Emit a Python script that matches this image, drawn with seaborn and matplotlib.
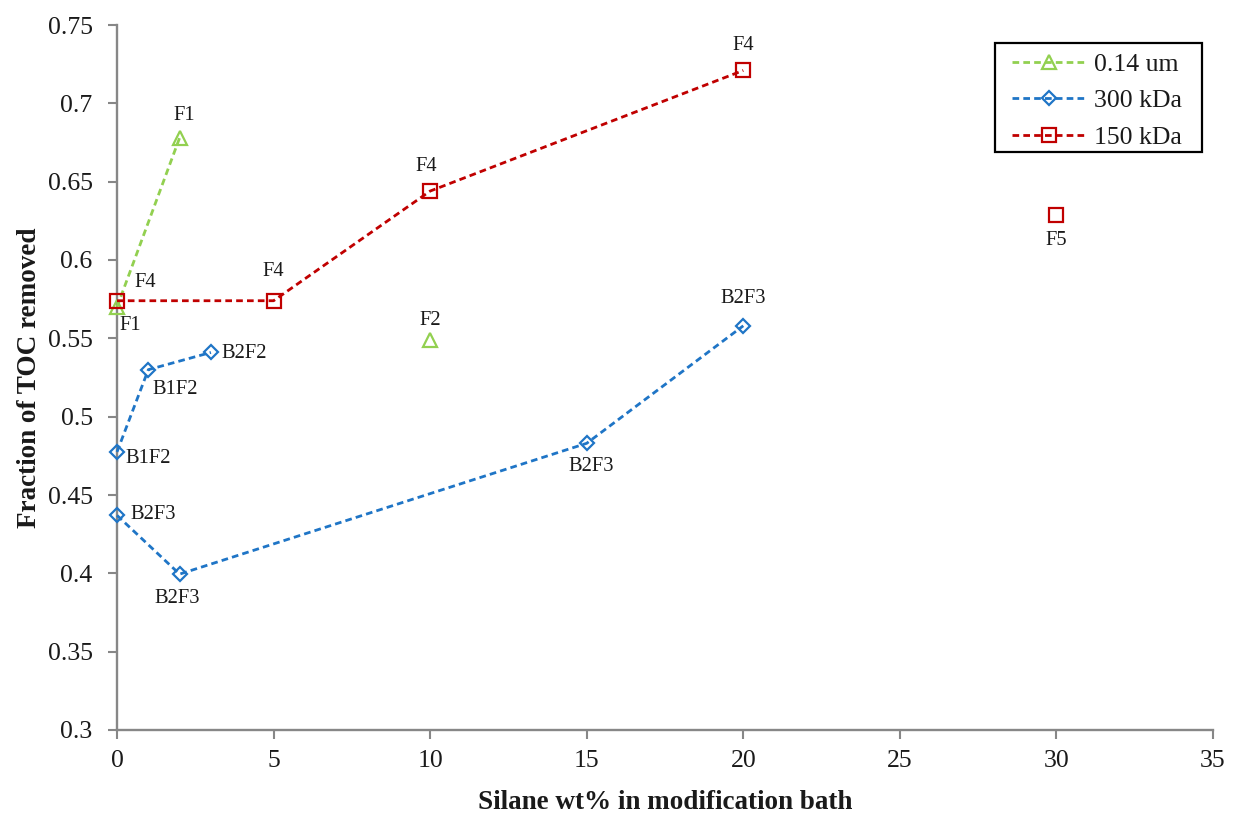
import matplotlib
matplotlib.use("Agg")
import matplotlib.pyplot as plt
from matplotlib.patches import Rectangle
import seaborn as sns
import pandas as pd

# ---------------- data ----------------
series_names = ["0.14 um", "300 kDa", "150 kDa"]

# 0.14 um (triangles)
um_seg1_x = [0, 2]
um_seg1_y = [0.570, 0.678]
um_single_x = [10]
um_single_y = [0.549]

# 300 kDa (diamonds)
kda300_seg1_x = [0, 1, 3]
kda300_seg1_y = [0.4775, 0.530, 0.541]
kda300_seg2_x = [0, 2, 15, 20]
kda300_seg2_y = [0.437, 0.3995, 0.483, 0.558]

# 150 kDa (squares)
kda150_seg1_x = [0, 5, 10, 20]
kda150_seg1_y = [0.574, 0.574, 0.644, 0.721]
kda150_single_x = [30]
kda150_single_y = [0.6285]

# point labels
um_labels = ["F1", "F1"]
um_single_labels = ["F2"]
kda300_seg1_labels = ["B1F2", "B1F2", "B2F2"]
kda300_seg2_labels = ["B2F3", "B2F3", "B2F3", "B2F3"]
kda150_seg1_labels = ["F4", "F4", "F4", "F4"]
kda150_single_labels = ["F5"]

x_ticks = [0, 5, 10, 15, 20, 25, 30, 35]
y_ticks = [0.3, 0.35, 0.4, 0.45, 0.5, 0.55, 0.6, 0.65, 0.7, 0.75]
y_tick_labels = ["0.3", "0.35", "0.4", "0.45", "0.5", "0.55", "0.6", "0.65", "0.7", "0.75"]

x_label = "Silane wt% in modification bath"
y_label = "Fraction of TOC removed"

# ---------------- style ----------------
sns.set_style("ticks")
plt.rcParams["font.family"] = ["Liberation Serif", "DejaVu Serif"]
TEXT = "#1a1a1a"
AXC = "#878787"

colors = {"0.14 um": "#92D050", "300 kDa": "#1F75C6", "150 kDa": "#C00000"}
markers = {"0.14 um": "^", "300 kDa": "D", "150 kDa": "s"}
msizes = {"0.14 um": 10.5, "300 kDa": 7.0, "150 kDa": 9.5}
dash = (0, (2.4, 1.5))

fig = plt.figure(figsize=(12.33, 8.14), dpi=100)
ax = fig.add_axes([117 / 1233, 1 - 730 / 814, (1213 - 117) / 1233, (730 - 25) / 814])

segments = [
    ("0.14 um", um_seg1_x, um_seg1_y, um_labels),
    ("0.14 um", um_single_x, um_single_y, um_single_labels),
    ("300 kDa", kda300_seg1_x, kda300_seg1_y, kda300_seg1_labels),
    ("300 kDa", kda300_seg2_x, kda300_seg2_y, kda300_seg2_labels),
    ("150 kDa", kda150_seg1_x, kda150_seg1_y, kda150_seg1_labels),
    ("150 kDa", kda150_single_x, kda150_single_y, kda150_single_labels),
]

handles = {}
for name, xs, ys, labs in segments:
    df = pd.DataFrame({"x": xs, "y": ys})
    n_before = len(ax.lines)
    sns.lineplot(data=df, x="x", y="y", ax=ax, estimator=None, sort=False,
                 color=colors[name], linewidth=2.0, linestyle=dash,
                 marker=markers[name], markersize=msizes[name],
                 markerfacecolor="none", markeredgecolor=colors[name],
                 markeredgewidth=1.6, clip_on=False, legend=False, zorder=3)
    if name not in handles:
        handles[name] = ax.lines[n_before]

# annotation offsets (pixels) and alignment per point
label_specs = [
    # (x, y, text, dx, dy, ha)
    (um_seg1_x[0], um_seg1_y[0], um_labels[0], 13, -18, "center"),
    (um_seg1_x[1], um_seg1_y[1], um_labels[1], 5, 22, "center"),
    (um_single_x[0], um_single_y[0], um_single_labels[0], 0, 19, "center"),
    (kda300_seg1_x[0], kda300_seg1_y[0], kda300_seg1_labels[0], 8, -7, "left"),
    (kda300_seg1_x[1], kda300_seg1_y[1], kda300_seg1_labels[1], 27, -20, "center"),
    (kda300_seg1_x[2], kda300_seg1_y[2], kda300_seg1_labels[2], 11, -1, "left"),
    (kda300_seg2_x[0], kda300_seg2_y[0], kda300_seg2_labels[0], 13, 1, "left"),
    (kda300_seg2_x[1], kda300_seg2_y[1], kda300_seg2_labels[1], -2, -24, "center"),
    (kda300_seg2_x[2], kda300_seg2_y[2], kda300_seg2_labels[2], 5, -23, "center"),
    (kda300_seg2_x[3], kda300_seg2_y[3], kda300_seg2_labels[3], 0, 27, "center"),
    (kda150_seg1_x[0], kda150_seg1_y[0], kda150_seg1_labels[0], 28, 18, "center"),
    (kda150_seg1_x[1], kda150_seg1_y[1], kda150_seg1_labels[1], 0, 29, "center"),
    (kda150_seg1_x[2], kda150_seg1_y[2], kda150_seg1_labels[2], -4, 25, "center"),
    (kda150_seg1_x[3], kda150_seg1_y[3], kda150_seg1_labels[3], 0, 25, "center"),
    (kda150_single_x[0], kda150_single_y[0], kda150_single_labels[0], 0, -25, "center"),
]
for x, y, t, dx, dy, ha in label_specs:
    ax.annotate(t, (x, y), xytext=(dx, dy), textcoords="offset pixels",
                ha=ha, va="center", fontsize=14.8, color=TEXT)

# axes
ax.set_xlim(0, 35)
ax.set_ylim(0.3, 0.75)
ax.set_xticks(x_ticks)
ax.set_xticklabels([str(v) for v in x_ticks])
ax.set_yticks(y_ticks)
ax.set_yticklabels(y_tick_labels)
sns.despine(ax=ax)
for s in ["left", "bottom"]:
    ax.spines[s].set_color(AXC)
    ax.spines[s].set_linewidth(1.7)
ax.tick_params(axis="both", colors=AXC, labelcolor=TEXT, labelsize=18.5,
               length=6.5, width=1.5, direction="out")
ax.tick_params(axis="x", pad=8)
ax.tick_params(axis="y", pad=11)

ax.set_xlabel(x_label, fontsize=19.5, fontweight="bold", color=TEXT)
ax.set_ylabel(y_label, fontsize=19.5, fontweight="bold", color=TEXT)
ax.xaxis.set_label_coords(0.5, -0.085)
ax.yaxis.set_label_coords(-0.068, 0.5)

# legend box (frame drawn as a rectangle to match padding)
W_ax = 1213 - 117
H_ax = 730 - 25
box = Rectangle(((995 - 117) / W_ax, (730 - 152) / H_ax),
                (1202 - 995) / W_ax, (152 - 43) / H_ax,
                transform=ax.transAxes, facecolor="white", edgecolor="black",
                linewidth=1.6, clip_on=False, zorder=4)
ax.add_patch(box)

leg = ax.legend([handles[n] for n in series_names], series_names,
                loc="upper left",
                bbox_to_anchor=((1012 - 117) / W_ax, (730 - 53) / H_ax),
                fontsize=18.5, frameon=False, handlelength=2.9, numpoints=1,
                borderpad=0.0, labelspacing=0.52, handletextpad=0.28,
                borderaxespad=0.0)
leg.set_zorder(5)
for t in leg.get_texts():
    t.set_color(TEXT)

fig.savefig("out.png", dpi=100)
